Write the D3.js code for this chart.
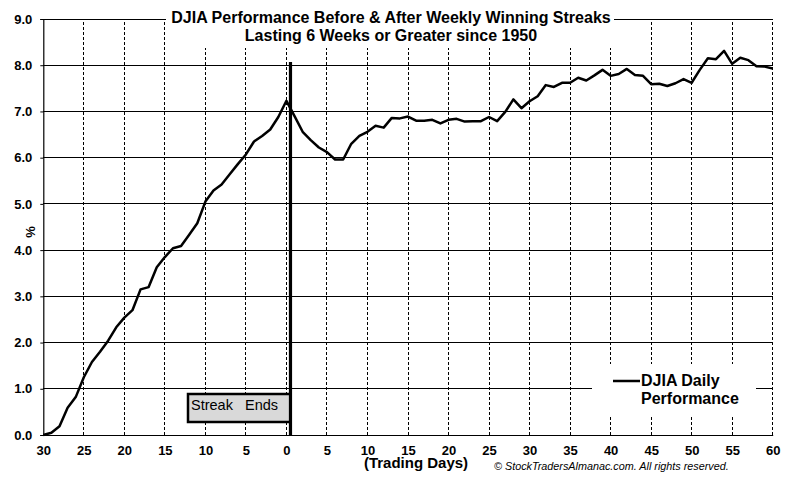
<!DOCTYPE html>
<html>
<head>
<meta charset="utf-8">
<script src="https://cdn.jsdelivr.net/npm/d3@7"></script>
<style>
  html, body { margin: 0; padding: 0; background: #fff; }
  svg { display: block; }
  text { font-family: Arial, "Liberation Sans", sans-serif; fill: #000; }
</style>
</head>
<body>
<svg id="chart" width="786" height="479"></svg>
<script>
// ---- data ----
const days = [-30,-29,-28,-27,-26,-25,-24,-23,-22,-21,-20,-19,-18,-17,-16,-15,-14,-13,-12,-11,
  -10,-9,-8,-7,-6,-5,-4,-3,-2,-1,0,1,2,3,4,5,6,7,8,9,10,11,12,13,14,15,16,17,18,19,20,
  21,22,23,24,25,26,27,28,29,30,31,32,33,34,35,36,37,38,39,40,41,42,43,44,45,46,47,48,49,50,
  51,52,53,54,55,56,57,58,59,60];
const performance = [0.00,0.05,0.19,0.59,0.82,1.25,1.58,1.80,2.04,2.33,
  2.54,2.70,3.15,3.20,3.63,3.85,4.04,4.09,4.33,4.58,
  5.05,5.29,5.42,5.64,5.86,6.07,6.35,6.47,6.61,6.88,
  7.23,6.90,6.56,6.38,6.22,6.12,5.96,5.96,6.30,6.47,
  6.56,6.69,6.65,6.86,6.85,6.89,6.80,6.80,6.82,6.74,
  6.82,6.84,6.78,6.79,6.79,6.88,6.79,6.99,7.26,7.07,
  7.22,7.33,7.57,7.53,7.62,7.62,7.73,7.67,7.78,7.90,
  7.77,7.81,7.92,7.79,7.77,7.59,7.60,7.55,7.61,7.70,
  7.62,7.90,8.15,8.13,8.31,8.03,8.16,8.11,7.98,7.97,7.93];
const xTicks = [-30,-25,-20,-15,-10,-5,0,5,10,15,20,25,30,35,40,45,50,55,60];
const yTicks = [0,1,2,3,4,5,6,7,8,9];
const streakEndDay = 0.5;
const streakLineTop = 8.07;
const titleLines = ["DJIA Performance Before & After Weekly Winning Streaks", "Lasting 6 Weeks or Greater since 1950"];
const legendLines = ["DJIA Daily", "Performance"];
const streakLabel = "Streak   Ends";
const xTitle = "(Trading Days)";
const yTitle = "%";
const credit = "\u00A9 StockTradersAlmanac.com. All rights reserved.";

// ---- layout ----
const svg = d3.select("#chart");
const x = d3.scaleLinear().domain([-30, 60]).range([43.3, 772.7]);
const y = d3.scaleLinear().domain([0, 9]).range([435, 19]);

// horizontal gridlines (solid)
svg.append("g").selectAll("line").data(yTicks.filter(v => v > 0)).join("line")
  .attr("x1", x(-30)).attr("x2", x(60))
  .attr("y1", d => y(d)).attr("y2", d => y(d))
  .attr("stroke", "#000").attr("stroke-width", 1).attr("shape-rendering", "crispEdges");

// vertical gridlines (dashed)
svg.append("g").selectAll("line").data(xTicks.filter(v => v > -30)).join("line")
  .attr("x1", d => x(d)).attr("x2", d => x(d))
  .attr("y1", y(0)).attr("y2", y(9))
  .attr("stroke", "#000").attr("stroke-width", 1).attr("stroke-dasharray", "3,2")
  .attr("shape-rendering", "crispEdges");

// axes
const yAxis = d3.axisLeft(y).tickValues(yTicks).tickFormat(d3.format(".1f")).tickSize(3).tickPadding(8);
const gy = svg.append("g").attr("transform", `translate(${x(-30)},0)`).call(yAxis);
gy.select(".domain").attr("stroke", "#000").attr("stroke-width", 1.2);
gy.selectAll("text").attr("font-size", 13).attr("font-weight", "bold")
  .attr("font-family", "Arial, 'Liberation Sans', sans-serif").attr("fill", "#000");

const xAxis = d3.axisBottom(x).tickValues(xTicks).tickFormat(d => Math.abs(d)).tickSize(0).tickPadding(11);
const gx = svg.append("g").attr("transform", `translate(0,${y(0)})`).call(xAxis);
gx.select(".domain").attr("stroke", "#000").attr("stroke-width", 1.2);
gx.selectAll("text").attr("font-size", 13).attr("font-weight", "bold")
  .attr("font-family", "Arial, 'Liberation Sans', sans-serif").attr("fill", "#000");

// title box
svg.append("rect").attr("x", 166).attr("y", 0).attr("width", 448).attr("height", 48).attr("fill", "#fff");
svg.append("g").selectAll("text").data(titleLines).join("text")
  .attr("x", 391).attr("y", (d, i) => 23 + i * 18)
  .attr("text-anchor", "middle").attr("font-size", 16).attr("font-weight", "bold")
  .text(d => d);

// legend box
svg.append("rect").attr("x", 592).attr("y", 364).attr("width", 164).attr("height", 52).attr("fill", "#fff");
svg.append("line").attr("x1", 613).attr("x2", 640).attr("y1", 381).attr("y2", 381)
  .attr("stroke", "#000").attr("stroke-width", 2.5);
svg.append("g").selectAll("text").data(legendLines).join("text")
  .attr("x", 641).attr("y", (d, i) => 386 + i * 18)
  .attr("font-size", 16).attr("font-weight", "bold").text(d => d);

// data line
const line = d3.line().x((d, i) => x(days[i])).y(d => y(d));
svg.append("path").datum(performance).attr("d", line)
  .attr("fill", "none").attr("stroke", "#000").attr("stroke-width", 2.5)
  .attr("stroke-linejoin", "round");

// streak ends box
svg.append("rect").attr("x", 188).attr("y", 394).attr("width", x(streakEndDay) - 188).attr("height", 28)
  .attr("fill", "#d9d9d9").attr("stroke", "#000").attr("stroke-width", 2.5);
svg.append("text").attr("x", 191).attr("y", 410).attr("font-size", 14.5)
  .style("white-space", "pre").text(streakLabel);

// streak end thick line
svg.append("line").attr("x1", x(streakEndDay)).attr("x2", x(streakEndDay))
  .attr("y1", y(0)).attr("y2", y(streakLineTop))
  .attr("stroke", "#000").attr("stroke-width", 3.2);

// axis titles
svg.append("text").attr("x", 416).attr("y", 468).attr("text-anchor", "middle")
  .attr("font-size", 15).attr("font-weight", "bold").text(xTitle);
svg.append("text").attr("transform", "translate(35,232) rotate(-90)").attr("text-anchor", "middle")
  .attr("font-size", 13).attr("font-weight", "bold").text(yTitle);
svg.append("text").attr("x", 494).attr("y", 470).attr("font-size", 10.8).attr("font-style", "italic")
  .text(credit);
</script>
</body>
</html>
